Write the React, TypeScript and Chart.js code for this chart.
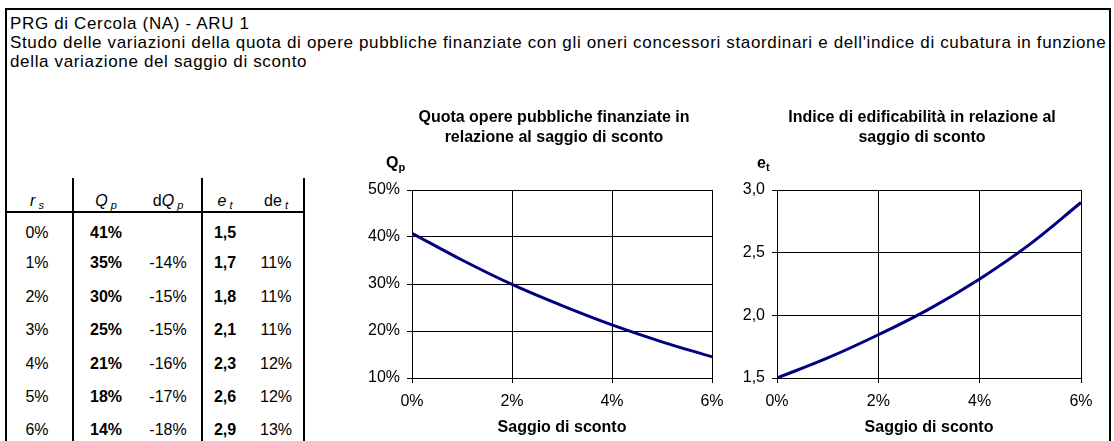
import React, { useEffect, useRef } from "react";
import { Chart, registerables } from "chart.js";

Chart.register(...registerables);

// ---- data ----
const rates = [0, 0.01, 0.02, 0.03, 0.04, 0.05, 0.06];
const qpValues = [0.408, 0.351, 0.299, 0.254, 0.213, 0.177, 0.145];
const etValues = [1.5, 1.66, 1.845, 2.05, 2.29, 2.57, 2.9];

const rateLabels = ["0%", "1%", "2%", "3%", "4%", "5%", "6%"];
const qpLabels = ["41%", "35%", "30%", "25%", "21%", "18%", "14%"];
const dqpLabels = ["", "-14%", "-15%", "-15%", "-16%", "-17%", "-18%"];
const etLabels = ["1,5", "1,7", "1,8", "2,1", "2,3", "2,6", "2,9"];
const detLabels = ["", "11%", "11%", "11%", "12%", "12%", "13%"];

const titleLines = [
  "PRG di Cercola (NA) - ARU 1",
  "Studo delle variazioni della quota di opere pubbliche finanziate con gli oneri concessori staordinari e dell'indice di cubatura in funzione",
  "della variazione del saggio di sconto",
];
const qpTitle = ["Quota opere pubbliche finanziate in", "relazione al saggio di sconto"];
const etTitle = ["Indice di edificabilità in relazione al", "saggio di sconto"];
const xTitle = "Saggio di sconto";

const FONT = '"Liberation Sans", Arial, Helvetica, sans-serif';

type ChartSpec = {
  values: number[];
  title: string[];
  yMin: number;
  yMax: number;
  yStep: number;
  yFmt: (v: number) => string;
  yWidth: number;
  rightSpace: number;
};

function makeConfig(spec: ChartSpec): any {
  return {
    type: "line",
    data: {
      datasets: [
        {
          data: rates.map((r, i) => ({ x: r, y: spec.values[i] })),
          borderColor: "#000080",
          borderWidth: 3,
          pointRadius: 0,
          tension: 0.4,
          fill: false,
          yAxisID: "y",
        },
      ],
    },
    options: {
      animation: false,
      responsive: false,
      layout: { padding: 0 },
      plugins: {
        legend: { display: false },
        tooltip: { enabled: false },
        title: {
          display: true,
          text: spec.title,
          color: "#000",
          font: { family: FONT, size: 16, weight: "bold", lineHeight: 1.25 },
          padding: { top: 8, bottom: 42 },
        },
      },
      scales: {
        x: {
          type: "linear",
          min: 0,
          max: 0.06,
          ticks: {
            stepSize: 0.02,
            color: "#000",
            font: { family: FONT, size: 16 },
            padding: 9,
            callback: (v: number) => Math.round(v * 100) + "%",
          },
          grid: { color: "#000", lineWidth: 1, tickLength: 5, tickColor: "#000" },
          border: { color: "#000", width: 1 },
          title: {
            display: true,
            text: xTitle,
            color: "#000",
            font: { family: FONT, size: 16, weight: "bold" },
            padding: { top: 4, bottom: 4 },
          },
          afterFit: (s: any) => {
            s.height = 63;
          },
        },
        y: {
          type: "linear",
          position: "left",
          min: spec.yMin,
          max: spec.yMax,
          ticks: {
            stepSize: spec.yStep,
            color: "#000",
            font: { family: FONT, size: 16 },
            padding: 7,
            callback: (v: number) => spec.yFmt(v),
          },
          grid: { color: "#000", lineWidth: 1, tickLength: 5, tickColor: "#000" },
          border: { color: "#000", width: 1 },
          afterFit: (s: any) => {
            s.width = spec.yWidth;
          },
        },
        // empty spacer on the right so the chart title is centred like the original
        spacer: {
          type: "linear",
          position: "right",
          min: 0,
          max: 1,
          ticks: { display: false },
          grid: { display: false, drawTicks: false },
          border: { display: false },
          afterFit: (s: any) => {
            s.width = spec.rightSpace;
          },
        },
      },
    },
  };
}

function LineChart(props: { spec: ChartSpec; left: number; width: number }) {
  const ref = useRef<HTMLCanvasElement | null>(null);
  useEffect(() => {
    if (!ref.current) return;
    const chart = new Chart(ref.current, makeConfig(props.spec));
    return () => chart.destroy();
  }, []);
  return (
    <canvas
      ref={ref}
      width={props.width}
      height={341}
      style={{ position: "absolute", left: props.left, top: 100, width: props.width, height: 341 }}
    />
  );
}

// left chart: canvas 340..768, plot 412..712, title centred at 554
const qpSpec: ChartSpec = {
  values: qpValues,
  title: qpTitle,
  yMin: 0.1,
  yMax: 0.5,
  yStep: 0.1,
  yFmt: (v) => Math.round(v * 100) + "%",
  yWidth: 72,
  rightSpace: 56,
};

// right chart: canvas 725..1119, plot 777..1081, title centred at 922
const etSpec: ChartSpec = {
  values: etValues,
  title: etTitle,
  yMin: 1.5,
  yMax: 3.0,
  yStep: 0.5,
  yFmt: (v) => v.toFixed(1).replace(".", ","),
  yWidth: 52,
  rightSpace: 38,
};

const colCenters = [37, 106, 168, 225, 276];
const rowCenters = [233, 263, 297, 330, 364, 397, 430];

function Cell(props: { x: number; y: number; bold?: boolean; children: React.ReactNode }) {
  return (
    <div
      style={{
        position: "absolute",
        left: props.x - 40,
        width: 80,
        top: props.y - 10,
        height: 20,
        lineHeight: "20px",
        textAlign: "center",
        fontSize: 16,
        fontWeight: props.bold ? "bold" : "normal",
        whiteSpace: "nowrap",
      }}
    >
      {props.children}
    </div>
  );
}

const subStyle: React.CSSProperties = { fontSize: 11, verticalAlign: "-3px", fontStyle: "italic" };

export default function App() {
  const headerY = 201;
  return (
    <div
      style={{
        position: "absolute",
        left: 0,
        top: 0,
        width: 1114,
        height: 441,
        overflow: "hidden",
        background: "#fff",
        fontFamily: FONT,
        color: "#000",
      }}
    >
      {/* outer frame */}
      <div
        style={{
          position: "absolute",
          left: 5,
          top: 8,
          width: 1106,
          height: 500,
          border: "2px solid #000",
          boxSizing: "border-box",
        }}
      />
      {/* heading text */}
      <div
        style={{
          position: "absolute",
          left: 10,
          top: 14,
          fontSize: 17,
          letterSpacing: "0.65px",
          lineHeight: "19px",
          whiteSpace: "nowrap",
        }}
      >
        {titleLines.map((t, i) => (
          <div key={i}>{t}</div>
        ))}
      </div>

      {/* table lines */}
      <div style={{ position: "absolute", left: 7, top: 211, width: 298, height: 2, background: "#000" }} />
      <div style={{ position: "absolute", left: 72, top: 178, width: 2, height: 300, background: "#000" }} />
      <div style={{ position: "absolute", left: 201, top: 178, width: 2, height: 300, background: "#000" }} />
      <div style={{ position: "absolute", left: 303, top: 178, width: 2, height: 300, background: "#000" }} />

      {/* table header */}
      <Cell x={colCenters[0]} y={headerY}>
        <i>r</i>
        <span style={subStyle}> s</span>
      </Cell>
      <Cell x={colCenters[1]} y={headerY}>
        <i>Q</i>
        <span style={subStyle}> p</span>
      </Cell>
      <Cell x={colCenters[2]} y={headerY}>
        d<i>Q</i>
        <span style={subStyle}> p</span>
      </Cell>
      <Cell x={colCenters[3]} y={headerY}>
        <i>e</i>
        <span style={subStyle}> t</span>
      </Cell>
      <Cell x={colCenters[4]} y={headerY}>
        de<span style={subStyle}> t</span>
      </Cell>

      {/* table rows */}
      {rateLabels.map((r, i) => (
        <React.Fragment key={i}>
          <Cell x={colCenters[0]} y={rowCenters[i]}>{r}</Cell>
          <Cell x={colCenters[1]} y={rowCenters[i]} bold>{qpLabels[i]}</Cell>
          <Cell x={colCenters[2]} y={rowCenters[i]}>{dqpLabels[i]}</Cell>
          <Cell x={colCenters[3]} y={rowCenters[i]} bold>{etLabels[i]}</Cell>
          <Cell x={colCenters[4]} y={rowCenters[i]}>{detLabels[i]}</Cell>
        </React.Fragment>
      ))}

      {/* charts */}
      <LineChart spec={qpSpec} left={340} width={428} />
      <LineChart spec={etSpec} left={725} width={394} />

      {/* axis labels above y axes */}
      <div style={{ position: "absolute", left: 386, top: 153, fontSize: 16, fontWeight: "bold", lineHeight: "20px" }}>
        Q<span style={{ fontSize: 11, verticalAlign: "-3px" }}>p</span>
      </div>
      <div style={{ position: "absolute", left: 757, top: 153, fontSize: 16, fontWeight: "bold", lineHeight: "20px" }}>
        e<span style={{ fontSize: 11, verticalAlign: "-3px" }}>t</span>
      </div>
    </div>
  );
}
